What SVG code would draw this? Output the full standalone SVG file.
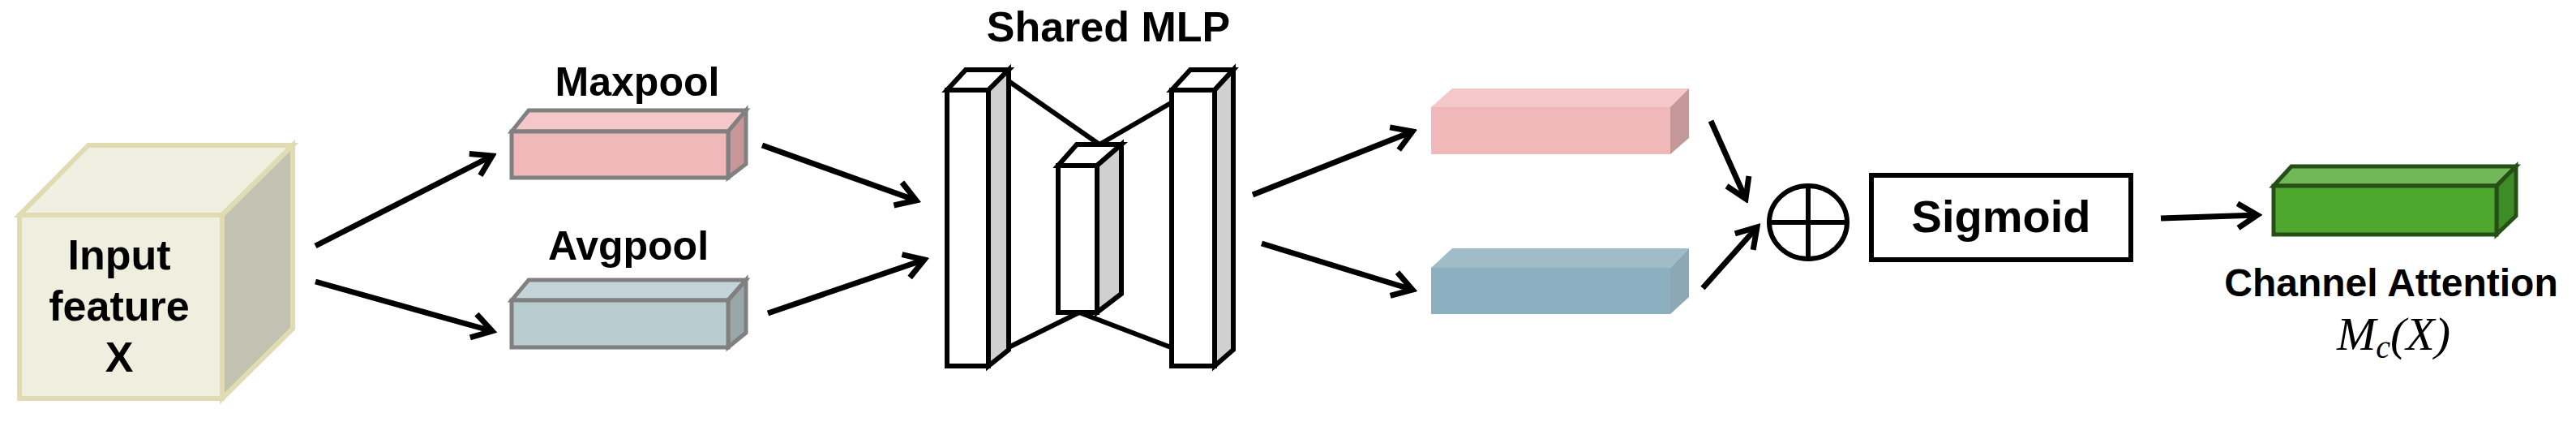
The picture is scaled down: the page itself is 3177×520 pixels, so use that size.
<svg xmlns="http://www.w3.org/2000/svg" width="3177" height="520" viewBox="0 0 3177 520">
<defs>
<style>
.t{font-family:"Liberation Sans",Arial,sans-serif;font-weight:bold;fill:#000;text-anchor:middle}
.c{stroke:#000;stroke-width:7;fill:none;marker-end:url(#ah)}
.g{stroke:#808080;stroke-width:5}
.k{stroke:#000;stroke-width:6}
</style>
<marker id="ah" markerUnits="userSpaceOnUse" viewBox="-32 -22 38 44" markerWidth="38" markerHeight="44" refX="0" refY="0" orient="auto">
<path d="M-24,-15 L0,0 L-24,15" stroke="#000" stroke-width="7" fill="none"/>
</marker>
</defs>
<rect width="3177" height="520" fill="#fff"/>
<g id="input">
<polygon points="24,265 109,179 361,179 274,265" fill="#f0f0e2" stroke="#e0dbb0" stroke-width="6"/>
<polygon points="274,265 361,179 361,405 274,491" fill="#c2c2b2" stroke="#e0dbb0" stroke-width="6"/>
<rect x="24" y="265" width="250" height="226" fill="#efefe0" stroke="#e0dbb0" stroke-width="6"/>
<text class="t" x="147" y="332" font-size="52">Input</text>
<text class="t" x="147" y="395" font-size="52">feature</text>
<text class="t" x="147" y="458" font-size="52">X</text>
</g>
<g id="maxpool">
<text class="t" x="786" y="118" font-size="50">Maxpool</text>
<polygon class="g" points="631,162 652,136 920,136 898,162" fill="#f4c8c8"/>
<polygon class="g" points="898,162 920,136 920,202 898,219" fill="#c89898"/>
<rect class="g" x="631" y="162" width="267" height="57" fill="#f0b8b8"/>
</g>
<g id="avgpool">
<text class="t" x="775" y="320" font-size="50">Avgpool</text>
<polygon class="g" points="631,370 652,345 920,345 898,370" fill="#c4d4d8"/>
<polygon class="g" points="898,370 920,345 920,410 898,428" fill="#98a8a8"/>
<rect class="g" x="631" y="370" width="267" height="58" fill="#b8ccd0"/>
</g>
<g id="mlp">
<text class="t" x="1367" y="51" font-size="52">Shared MLP</text>
<g class="k" fill="#fff">
<line x1="1244" y1="100" x2="1356" y2="178"/>
<line x1="1468" y1="113" x2="1356" y2="178"/>
<line x1="1244" y1="428" x2="1331" y2="385"/>
<line x1="1331" y1="385" x2="1444" y2="428"/>
<polygon points="1168,111 1191,86 1244,86 1219,111"/>
<polygon points="1219,111 1244,86 1244,431 1219,451" fill="#d0d0d0"/>
<rect x="1168" y="111" width="51" height="340"/>
<polygon points="1305,204 1328,178 1383,178 1353,204"/>
<polygon points="1353,204 1383,178 1383,362 1353,385" fill="#d0d0d0"/>
<rect x="1305" y="204" width="48" height="181"/>
<polygon points="1445,111 1468,86 1521,86 1498,111"/>
<polygon points="1498,111 1521,86 1521,431 1498,451" fill="#d0d0d0"/>
<rect x="1445" y="111" width="53" height="340"/>
</g>
</g>
<g id="pink">
<polygon points="1765,132 1791,109 2083,109 2060,132" fill="#f4c8c8"/>
<polygon points="2060,132 2083,109 2083,170 2060,190" fill="#c49898"/>
<rect x="1765" y="132" width="295" height="58" fill="#f0b8b8"/>
</g>
<g id="blue">
<polygon points="1765,330 1791,306 2083,306 2060,330" fill="#a0bcc8"/>
<polygon points="2060,330 2083,306 2083,366 2060,387" fill="#8ca8b4"/>
<rect x="1765" y="330" width="295" height="57" fill="#8cb0c0"/>
</g>
<g id="sum">
<ellipse cx="2230" cy="274" rx="48" ry="45" fill="none" stroke="#000" stroke-width="6"/>
<line x1="2182" y1="274" x2="2278" y2="274" stroke="#000" stroke-width="6"/>
<line x1="2230" y1="229" x2="2230" y2="319" stroke="#000" stroke-width="6"/>
</g>
<g id="sigmoid">
<rect x="2308" y="216" width="320" height="104" fill="#fff" stroke="#000" stroke-width="6"/>
<text class="t" x="2468" y="286" font-size="56">Sigmoid</text>
</g>
<g id="output">
<polygon points="2804,229 2826,205 3103,205 3079,229" fill="#70b858" stroke="#264f16" stroke-width="5"/>
<polygon points="3079,229 3103,205 3103,266 3079,289" fill="#3e8c28" stroke="#264f16" stroke-width="5"/>
<rect x="2804" y="229" width="275" height="60" fill="#4ea82e" stroke="#264f16" stroke-width="5"/>
<text class="t" x="2949" y="365" font-size="48">Channel Attention</text>
<text x="2952" y="431" font-family="'Liberation Serif','Times New Roman',serif" font-style="italic" font-size="58" text-anchor="middle">M<tspan font-size="40" dy="10">c</tspan><tspan dy="-10">(X)</tspan></text>
</g>
<g id="connectors">
<line class="c" x1="389" y1="303" x2="607" y2="192"/>
<line class="c" x1="389" y1="347" x2="607" y2="408"/>
<line class="c" x1="940" y1="179" x2="1130" y2="247"/>
<line class="c" x1="947" y1="386" x2="1140" y2="320"/>
<line class="c" x1="1545" y1="240" x2="1742" y2="162"/>
<line class="c" x1="1556" y1="300" x2="1742" y2="357"/>
<line class="c" x1="2110" y1="149" x2="2153" y2="245"/>
<line class="c" x1="2100" y1="355" x2="2167" y2="280"/>
<line class="c" x1="2665" y1="269" x2="2784" y2="265"/>
</g>
</svg>
